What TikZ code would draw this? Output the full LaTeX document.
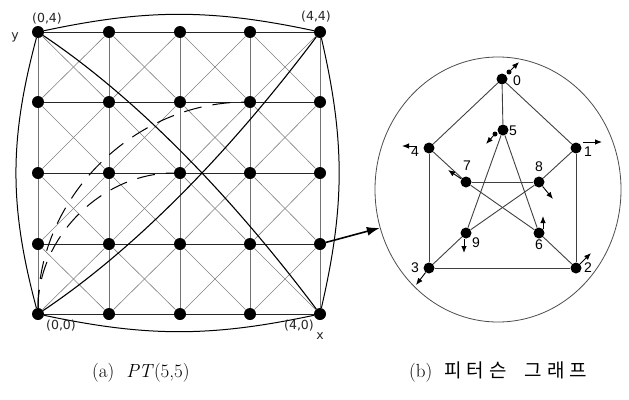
\documentclass[tikz,border=0pt]{standalone}
\usepackage{fontspec}
\newfontfamily\dejavu{DejaVu Sans}
\newfontfamily\libsans{Liberation Sans}
\newfontfamily\kr{Noto Sans CJK KR}
\usetikzlibrary{arrows.meta,shapes.geometric}
\begin{document}
\begin{tikzpicture}[x=1pt,y=-1pt,
  gdot/.style={circle,fill=black,inner sep=0pt,minimum size=12pt},
  pdot/.style={circle,fill=black,inner sep=0pt,minimum size=11pt},
  sdot/.style={circle,fill=black,inner sep=0pt,minimum size=5pt},
  hline/.style={black!85,line width=0.8pt},
  vline/.style={black!55,line width=1pt},
  dline/.style={black!50,line width=0.6pt},
  bline/.style={black,line width=1.1pt},
  arcline/.style={black,line width=1pt},
  dashcurve/.style={black,line width=1pt,dash pattern=on 18pt off 11pt},
  pedge/.style={black!75,line width=0.9pt},
  parrow/.style={-{Latex[length=7pt,width=5.5pt]},black,line width=0.9pt},
  glabel/.style={font=\dejavu\fontsize{12.5}{12.5}\selectfont,text=black!85,inner sep=0pt},
  plabel/.style={font=\libsans\fontsize{14}{14}\selectfont,inner sep=0pt},
  caption/.style={font=\fontsize{19}{19}\selectfont,inner sep=0pt,anchor=base west}
]
\useasboundingbox (0,0) rectangle (629,399);

% ---------- PT(5,5) grid ----------
\foreach \gi/\gx in {0/38,1/109,2/180,3/250,4/320}{
  \foreach \gj/\gy in {0/314,1/244,2/173,3/102,4/32}{
    \node[gdot] (g\gi\gj) at (\gx,\gy) {};
  }
}
\foreach \ga/\gb in {0/1,1/2,2/3,3/4}{
  \foreach \gc/\gd in {0/1,1/2,2/3,3/4}{
    \draw[dline] (g\ga\gc) -- (g\gb\gd);
    \draw[dline] (g\gb\gc) -- (g\ga\gd);
  }
}
\foreach \ga/\gb in {0/1,1/2,2/3,3/4}{
  \foreach \gc in {0,1,2,3,4}{
    \draw[hline] (g\ga\gc) -- (g\gb\gc);
    \draw[vline] (g\gc\ga) -- (g\gc\gb);
  }
}

% outer arcs
\draw[arcline] (g04) to[bend left=12] (g44);
\draw[arcline] (g00) to[bend right=12] (g40);
\draw[arcline] (g04) to[bend right=15] (g00);
\draw[arcline] (g44) to[bend left=13] (g40);

% long curves
\draw[bline] (g00) .. controls (132,251) and (226,157) .. (g44);
\draw[bline] (g04) .. controls (132,95) and (226,189) .. (g40);

% dashed curves
\draw[dashcurve] (g00) .. controls (38,198) and (133,103) .. (g33);
\draw[dashcurve] (g00) .. controls (38,237) and (102,173) .. (g22);

% grid labels
\node[glabel] (l04) at (47,19) {(0,4)};
\node[glabel] (l44) at (316,17) {(4,4)};
\node[glabel] (ly) at (15,37) {y};
\node[glabel] (l00) at (61,326) {(0,0)};
\node[glabel] (l40) at (299,326) {(4,0)};
\node[glabel] (lx) at (320,336) {x};

% ---------- Petersen graph ----------
\node[draw=black!70,line width=0.8pt,ellipse,inner sep=0pt,
      minimum width=246pt,minimum height=265pt] (ring) at (498,189.5) {};

\node[pdot] (p0) at (502,79) {};
\node[pdot] (p5) at (503,130) {};
\node[pdot] (p4) at (429,148) {};
\node[pdot] (p1) at (576,148) {};
\node[pdot] (p7) at (466,182) {};
\node[pdot] (p8) at (539,182) {};
\node[pdot] (p9) at (466,233) {};
\node[pdot] (p6) at (539,233) {};
\node[pdot] (p3) at (429,268) {};
\node[pdot] (p2) at (576,268) {};

\draw[pedge] (p0) -- (p1);
\draw[pedge] (p0) -- (p4);
\draw[pedge] (p0) -- (p5);
\draw[pedge] (p4) -- (p3);
\draw[pedge] (p1) -- (p2);
\draw[pedge] (p3) -- (p2);
\draw[pedge] (p1) -- (p8);
\draw[pedge] (p8) -- (p9);
\draw[pedge] (p9) -- (p3);
\draw[pedge] (p4) -- (p7);
\draw[pedge] (p7) -- (p6);
\draw[pedge] (p6) -- (p2);
\draw[pedge] (p7) -- (p8);
\draw[pedge] (p5) -- (p9);
\draw[pedge] (p5) -- (p6);

% small dots and arrows
\node[sdot] (s0) at (509,72) {};
\node[sdot] (s5) at (495,134) {};
\coordinate (t0) at (519,62);
\coordinate (t5) at (486,144);
\coordinate (f4) at (417,146);
\coordinate (t4) at (402,146);
\coordinate (f1) at (583,142);
\coordinate (t1) at (602,142);
\coordinate (t7) at (448,170);
\coordinate (t8) at (553,199);
\coordinate (f9) at (464,239);
\coordinate (t9) at (464,253);
\coordinate (f6) at (543,229);
\coordinate (t6) at (543,216);
\coordinate (t2) at (591,253);
\coordinate (t3) at (416,285);

\draw[parrow] (s0) -- (t0);
\draw[parrow] (s5) -- (t5);
\draw[parrow] (f4) -- (t4);
\draw[parrow] (f1) -- (t1);
\draw[parrow] (p7) -- (t7);
\draw[parrow] (p8) -- (t8);
\draw[parrow] (f9) -- (t9);
\draw[parrow] (f6) -- (t6);
\draw[parrow] (p2) -- (t2);
\draw[parrow] (p3) -- (t3);

% labels
\node[plabel] (n0) at (517,81) {0};
\node[plabel] (n5) at (513,131) {5};
\node[plabel] (n4) at (415,152) {4};
\node[plabel] (n1) at (588,152) {1};
\node[plabel] (n7) at (467,166) {7};
\node[plabel] (n8) at (539,167) {8};
\node[plabel] (n9) at (476,243) {9};
\node[plabel] (n6) at (539,245) {6};
\node[plabel] (n3) at (415,268) {3};
\node[plabel] (n2) at (588,268) {2};

% big arrow
\draw[-{Latex[length=13pt,width=9pt]},line width=1.6pt] (g41) -- (ring.198);

% ---------- captions ----------
\node[caption] (capa) at (92,377) {(a)\hspace{12pt}\textit{PT}(5,5)};
\node[caption] (capb) at (409,377) {(b)\hspace{12pt}{\kr\fontsize{19}{19}\selectfont 피\kern5pt 터\kern5pt 슨\kern18pt 그\kern5pt 래\kern5pt 프}};
\end{tikzpicture}
\end{document}
